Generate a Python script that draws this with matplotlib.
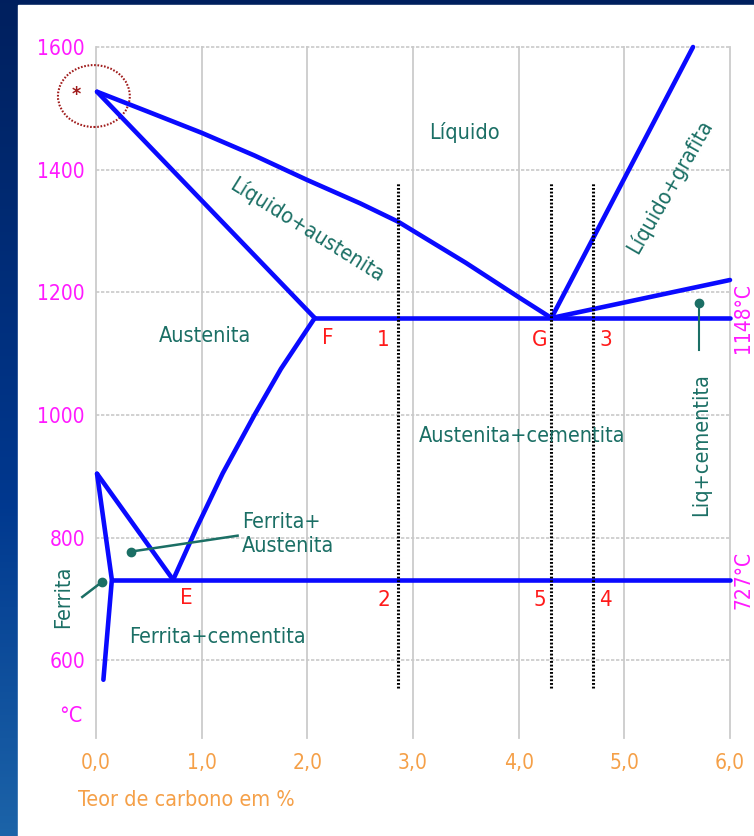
import matplotlib
matplotlib.use("Agg")
import matplotlib.pyplot as plt
import numpy as np
from matplotlib.patches import Ellipse, Rectangle

plt.rcParams.update({
    "font.family": "DejaVu Sans",
    "font.stretch": "condensed",
    "font.size": 15,
})

# phase boundaries (carbon %, temperature °C)
liquidus_c = [0.01, 0.5, 1.0, 1.5, 2.0, 2.5, 2.86, 3.5, 4.0, 4.31]
liquidus_t = [1527, 1494, 1460, 1423, 1383, 1345, 1315, 1248, 1192, 1158]
solidus_c = [0.01, 2.07]
solidus_t = [1527, 1158]
acm_c = [2.07, 1.75, 1.5, 1.2, 0.95, 0.73]
acm_t = [1158, 1075, 1000, 905, 815, 731]
a3_c = [0.01, 0.73]
a3_t = [904, 731]
ferrite_c = [0.01, 0.15, 0.07]
ferrite_t = [904, 731, 568]
graphite_c = [4.31, 5.65]
graphite_t = [1158, 1600]
graphite2_c = [4.31, 6.0]
graphite2_t = [1158, 1220]
eutectic_c = [2.07, 6.0]
eutectic_t = 1158
eutectoid_c = [0.15, 6.0]
eutectoid_t = 731

alloy_c = [2.86, 4.31, 4.70]
alloy_t = [555, 1378]

xticks = [0, 1, 2, 3, 4, 5, 6]
xlabels = ["0,0", "1,0", "2,0", "3,0", "4,0", "5,0", "6,0"]
yticks = [600, 800, 1000, 1200, 1400, 1600]

BLUE = "#0a0aff"
TEAL = "#1b6f65"
RED = "#ff1a1a"
MAG = "#ff1aff"
ORANGE = "#f5a048"

fig = plt.figure(figsize=(7.54, 8.36), dpi=100)

# dark blue frame with white panel
bg = fig.add_axes([0, 0, 1, 1], zorder=-10)
stops = np.array([[0.0, 0.125, 0.37], [0.0, 0.22, 0.56], [0.11, 0.39, 0.66]])
s = np.linspace(0, 1, 256)
grad = np.stack([np.interp(s, [0, 0.6, 1], stops[:, k]) for k in range(3)], axis=-1)
bg.imshow(grad[:, None, :], aspect="auto", extent=[0, 1, 0, 1])
bg.add_patch(Rectangle((18 / 754, 0), 1, (836 - 5) / 836, color="white"))
bg.set_xlim(0, 1)
bg.set_ylim(0, 1)
bg.axis("off")

ax = fig.add_axes([96 / 754, (836 - 738) / 836, 634 / 754, 691 / 836])
ax.set_facecolor("none")
ax.set_xlim(0, 6)
ax.set_ylim(473, 1600)
for sp in ax.spines.values():
    sp.set_visible(False)

for x in xticks:
    ax.axvline(x, color="#cbcbcb", lw=1.3, zorder=0, clip_on=False)
for y in yticks:
    ax.axhline(y, color="#c9c9c9", lw=1.2, ls=(0, (2, 1)), zorder=0, clip_on=False)

ax.set_xticks(xticks)
ax.set_xticklabels(xlabels, color=ORANGE)
ax.set_yticks(yticks)
ax.set_yticklabels([str(y) for y in yticks], color=MAG)
ax.tick_params(length=0)
ax.tick_params(axis="x", pad=11)
ax.tick_params(axis="y", pad=8)

lw = 3.3
kw = dict(color=BLUE, lw=lw, solid_capstyle="round", solid_joinstyle="round", clip_on=False)
ax.plot(liquidus_c, liquidus_t, **kw)
ax.plot(solidus_c, solidus_t, **kw)
ax.plot(acm_c, acm_t, **kw)
ax.plot(a3_c, a3_t, **kw)
ax.plot(ferrite_c, ferrite_t, **kw)
ax.plot(graphite_c, graphite_t, **kw)
ax.plot(graphite2_c, graphite2_t, **kw)
ax.plot(eutectic_c, [eutectic_t] * 2, **kw)
ax.plot(eutectoid_c, [eutectoid_t] * 2, **kw)

for c in alloy_c:
    ax.plot([c, c], alloy_t, color="black", lw=2.2, ls=(0, (0.6, 0.6)), zorder=3)

# point labels
for txt, c, t in [("F", 2.19, 1126), ("1", 2.72, 1122), ("G", 4.20, 1122), ("3", 4.82, 1122),
                  ("E", 0.86, 702), ("2", 2.72, 698), ("5", 4.20, 698), ("4", 4.82, 698)]:
    ax.text(c, t, txt, color=RED, fontsize=16, ha="center", va="center")

# phase region labels
ax.text(3.49, 1460, "Líquido", color=TEAL, ha="center", va="center", fontsize=15.5)
ax.text(2.0, 1302, "Líquido+austenita", color=TEAL, ha="center", va="center",
        fontsize=15.5, rotation=-32, rotation_mode="anchor")
ax.text(5.43, 1372, "Líquido+grafita", color=TEAL, ha="center", va="center",
        fontsize=15.5, rotation=60, rotation_mode="anchor")
ax.text(1.03, 1129, "Austenita", color=TEAL, ha="center", va="center", fontsize=15.5)
ax.text(4.03, 966, "Austenita+cementita", color=TEAL, ha="center", va="center", fontsize=15.5)
ax.text(1.38, 805, "Ferrita+\nAustenita", color=TEAL, ha="left", va="center",
        fontsize=15.5, linespacing=1.25)
ax.text(1.15, 638, "Ferrita+cementita", color=TEAL, ha="center", va="center", fontsize=15.5)
ax.text(-0.31, 703, "Ferrita", color=TEAL, ha="center", va="center", fontsize=15.5,
        rotation=90, clip_on=False)
ax.text(5.73, 951, "Liq+cementita", color=TEAL, ha="center", va="center", fontsize=15.5,
        rotation=90)

# leader lines
ax.plot([0.33, 1.34], [777, 803], color=TEAL, lw=1.8)
ax.plot([0.33], [777], "o", color=TEAL, ms=6)
ax.plot([0.06, -0.13], [728, 703], color=TEAL, lw=1.8, clip_on=False)
ax.plot([0.06], [728], "o", color=TEAL, ms=6, clip_on=False)
ax.plot([5.71, 5.71], [1183, 1106], color=TEAL, lw=1.5)
ax.plot([5.71], [1183], "o", color=TEAL, ms=6)

# right side temperature marks
ax.text(6.125, eutectic_t, "1148°C", color=MAG, ha="center", va="center", rotation=90,
        fontsize=15, clip_on=False)
ax.text(6.125, eutectoid_t, "727°C", color=MAG, ha="center", va="center", rotation=90,
        fontsize=15, clip_on=False)

ax.text(-0.13, 509, "°C", color=MAG, ha="right", va="center", fontsize=15.5, clip_on=False)

# melting point marker
ax.add_patch(Ellipse((-0.02, 1520), 0.68, 101, fill=False, ec="#a01c1c", lw=1.5,
                     ls=(0, (0.8, 0.8)), clip_on=False))
ax.text(-0.19, 1522, "*", color="#a01c1c", ha="center", va="center", fontsize=14,
        fontweight="bold", clip_on=False)

fig.text(78 / 754, (836 - 800) / 836, "Teor de carbono em %", color=ORANGE,
         ha="left", va="center", fontsize=15.5)

fig.savefig("out.png", dpi=100)
